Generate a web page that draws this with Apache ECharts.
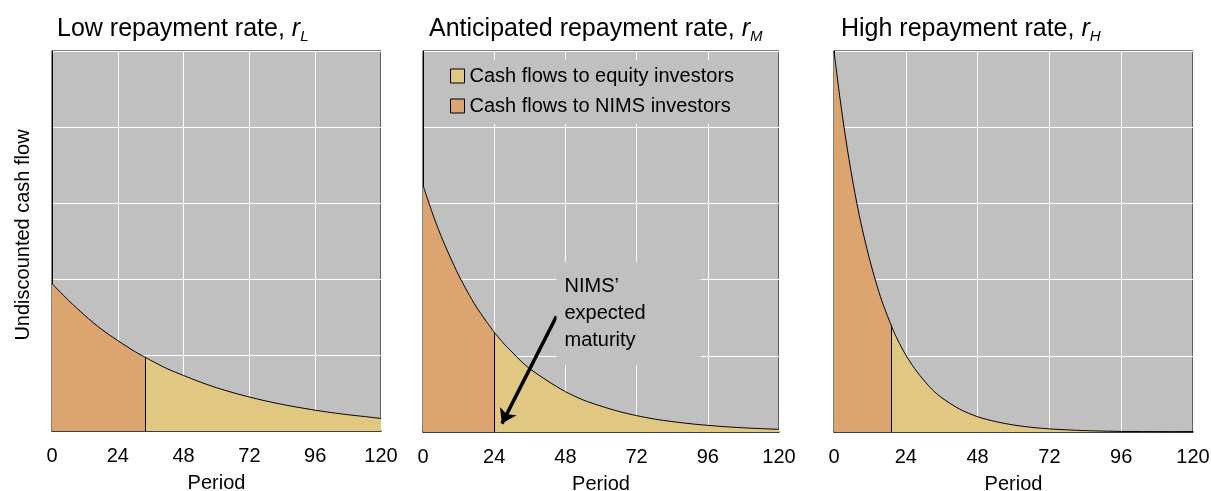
<!DOCTYPE html>
<html>
<head>
<meta charset="utf-8">
<script src="https://cdn.jsdelivr.net/npm/echarts@6/dist/echarts.min.js"></script>
<style>html,body{margin:0;padding:0;background:#fff}#c{width:1211px;height:491px}</style>
</head>
<body>
<div id="c"></div>
<script>
// ---- data ----
const xTicks = [0, 24, 48, 72, 96, 120];
const seriesNames = ['Cash flows to equity investors', 'Cash flows to NIMS investors'];
const panelTitles = ['Low repayment rate, ', 'Anticipated repayment rate, ', 'High repayment rate, '];
const panelSubs = ['L', 'M', 'H'];

const lowNimsP = [0, 6, 12, 18, 24, 30, 34];
const lowNimsV = [1.94, 1.72, 1.52, 1.34, 1.19, 1.05, 0.97];
const lowEqP = [34, 36, 42, 48, 54, 60, 66, 72, 78, 84, 90, 96, 102, 108, 114, 120];
const lowEqV = [0.97, 0.93, 0.82, 0.73, 0.645, 0.57, 0.505, 0.447, 0.395, 0.35, 0.31, 0.274, 0.242, 0.214, 0.19, 0.165];

const midNimsP = [0, 3, 6, 9, 12, 15, 18, 21, 24];
const midNimsV = [3.24, 2.89, 2.58, 2.31, 2.06, 1.84, 1.64, 1.47, 1.31];
const midEqP = [24, 27, 30, 33, 36, 42, 48, 54, 60, 66, 72, 78, 84, 90, 96, 102, 108, 114, 120];
const midEqV = [1.31, 1.17, 1.05, 0.93, 0.83, 0.67, 0.53, 0.42, 0.34, 0.27, 0.215, 0.17, 0.137, 0.109, 0.087, 0.069, 0.055, 0.044, 0.035];

const highNimsP = [0, 2, 4, 6, 8, 10, 12, 14, 16, 19];
const highNimsV = [5.0, 4.38, 3.83, 3.35, 2.93, 2.57, 2.25, 1.97, 1.72, 1.41];
const highEqP = [19, 21, 24, 27, 30, 33, 36, 42, 48, 54, 60, 66, 72, 78, 84, 90, 96, 102, 108, 114, 120];
const highEqV = [1.41, 1.23, 1.01, 0.83, 0.68, 0.55, 0.45, 0.30, 0.20, 0.137, 0.092, 0.061, 0.041, 0.028, 0.018, 0.012, 0.008, 0.006, 0.004, 0.002, 0.002];

const noteText = "NIMS’\nexpected\nmaturity";
const noteAt = [45, 1.555];
const arrowFrom = [45, 1.52];
const arrowTo = [26.6, 0.11];

// ---- styling ----
const FONT = "'Liberation Sans', Arial, Helvetica, sans-serif";
const GREY = '#c0c0c0';
const ORANGE = '#dca46f';
const YELLOW = '#e0c883';
const zip = (p, v) => p.map((x, i) => [x, v[i]]);

const grids = [
  { left: 52, right: 830, top: 51, height: 380 },
  { left: 423, right: 432, top: 51, height: 381 },
  { left: 834, right: 18, top: 51, height: 381 }
];
const titleLefts = [57, 429, 841];

const panels = [
  [lowNimsP, lowNimsV, lowEqP, lowEqV],
  [midNimsP, midNimsV, midEqP, midEqV],
  [highNimsP, highNimsV, highEqP, highEqV]
];

const option = {
  animation: false,
  textStyle: { fontFamily: FONT },
  title: panelTitles.map((t, i) => ({
    text: '{t|' + t + '}{i|r}{s|' + panelSubs[i] + '}',
    left: titleLefts[i], top: 15, padding: 0,
    textStyle: {
      fontWeight: 'normal',
      rich: {
        t: { fontSize: 25, color: '#000', fontWeight: 'normal', fontFamily: FONT },
        i: { fontSize: 25, color: '#000', fontWeight: 'normal', fontStyle: 'italic', fontFamily: FONT },
        s: { fontSize: 15, color: '#000', fontWeight: 'normal', fontStyle: 'italic', fontFamily: FONT, padding: [14, 0, 0, 0] }
      }
    }
  })),
  legend: {
    data: seriesNames,
    orient: 'vertical',
    left: 432, top: 60,
    padding: [6, 30, 8, 18],
    itemGap: 10,
    itemWidth: 14, itemHeight: 14,
    icon: 'rect',
    backgroundColor: GREY,
    itemStyle: { borderColor: '#000', borderWidth: 1 },
    textStyle: { fontSize: 20, color: '#000', fontFamily: FONT }
  },
  grid: grids.map(g => Object.assign({ show: true, backgroundColor: GREY, borderColor: '#000', borderWidth: 1, outerBoundsMode: 'none', containLabel: false }, g)),
  xAxis: grids.map((g, i) => ({
    type: 'value', gridIndex: i,
    min: xTicks[0], max: xTicks[xTicks.length - 1], interval: xTicks[1] - xTicks[0],
    name: 'Period', nameLocation: 'middle', nameGap: 42,
    nameTextStyle: { fontSize: 20, color: '#000', fontFamily: FONT },
    axisLine: { show: true, onZero: false, lineStyle: { color: '#000', width: 1.5 } },
    axisTick: { show: false },
    axisLabel: { fontSize: 20, color: '#000', margin: 15, fontFamily: FONT },
    splitLine: { show: true, lineStyle: { color: '#ffffff', width: 1 } }
  })),
  yAxis: grids.map((g, i) => ({
    type: 'value', gridIndex: i, min: 0, max: 5, interval: 1,
    name: i === 0 ? 'Undiscounted cash flow' : '',
    nameLocation: 'middle', nameGap: 19,
    nameTextStyle: { fontSize: 20, color: '#000', fontFamily: FONT, padding: [0, 0, 0, 12] },
    axisLine: { show: true, lineStyle: { color: '#000', width: 1 } },
    axisTick: { show: false },
    axisLabel: { show: false },
    splitLine: { show: true, lineStyle: { color: '#ffffff', width: 1 } }
  })),
  series: []
};

panels.forEach((p, i) => {
  const [nP, nV, eP, eV] = p;
  const splitX = nP[nP.length - 1], splitY = nV[nV.length - 1];
  option.series.push({
    name: seriesNames[1], type: 'line', xAxisIndex: i, yAxisIndex: i,
    data: zip(nP, nV), smooth: 0.3, showSymbol: false, symbol: 'none',
    color: ORANGE,
    itemStyle: { color: ORANGE },
    lineStyle: { color: '#000', width: 1 },
    areaStyle: { color: ORANGE, opacity: 1 },
    markLine: {
      silent: true, symbol: ['none', 'none'], label: { show: false },
      lineStyle: { color: '#000', width: 1, type: 'solid' },
      data: [[{ coord: [splitX, 0] }, { coord: [splitX, splitY] }]]
    },
    z: 3
  });
  const eq = {
    name: seriesNames[0], type: 'line', xAxisIndex: i, yAxisIndex: i,
    data: zip(eP, eV), smooth: 0.3, showSymbol: false, symbol: 'none',
    color: YELLOW,
    itemStyle: { color: YELLOW },
    lineStyle: { color: '#000', width: 1 },
    areaStyle: { color: YELLOW, opacity: 1 },
    z: 2
  };
  if (i === 1) {
    eq.markPoint = {
      silent: true, symbol: 'rect', symbolSize: 0,
      data: [{ coord: noteAt, value: 0 }],
      label: {
        show: true, position: 'right', distance: 0,
        formatter: noteText,
        fontSize: 20, lineHeight: 27, color: '#000', fontFamily: FONT,
        align: 'left',
        backgroundColor: GREY, padding: [10, 55, 12, 8]
      }
    };
    eq.markLine = {
      silent: true, symbol: ['none', 'arrow'], symbolSize: 14,
      label: { show: false },
      itemStyle: { color: '#000' },
      lineStyle: { color: '#000', width: 3.5, type: 'solid' },
      data: [[{ coord: arrowFrom }, { coord: arrowTo }]]
    };
  }
  option.series.push(eq);
});

const chart = echarts.init(document.getElementById('c'), null, { renderer: 'canvas' });
chart.setOption(option);
</script>
</body>
</html>
